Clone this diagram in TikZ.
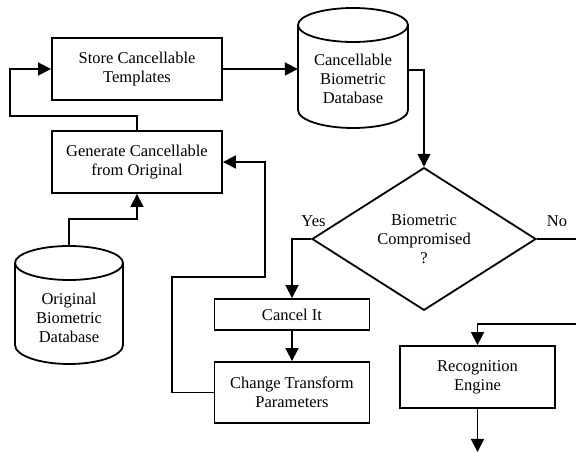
\documentclass[tikz,border=0pt]{standalone}
\usepackage{fontspec}
\setmainfont{Liberation Serif}
\usetikzlibrary{arrows.meta,shapes.geometric}
\begin{document}
\begin{tikzpicture}[x=1pt,y=1pt,
  every node/.style={font=\fontsize{16.5}{19}\selectfont, align=center},
  box/.style={draw, line width=1.9pt, inner sep=0pt},
  ln/.style={line width=1.8pt},
  arr/.style={ln, -{Triangle[length=13pt,width=13pt]}},
  cyl/.style={line width=1.8pt},
  lbl/.style={inner sep=0pt}]
\useasboundingbox (0,0) rectangle (576,452);
% boxes
\node[box, minimum width=170pt, minimum height=62pt] (store) at (137,383) {Store Cancellable\\Templates};
\node[box, minimum width=170pt, minimum height=62pt] (gen) at (137,290) {Generate Cancellable\\from Original};
\node[box, minimum width=155pt, minimum height=31pt] (can) at (292,137.5) {Cancel It};
\node[box, minimum width=155pt, minimum height=61pt] (chg) at (292,59.5) {Change Transform\\Parameters};
\node[box, minimum width=155pt, minimum height=62pt] (rec) at (477.5,75) {Recognition\\Engine};
\node[draw, diamond, line width=1.8pt, inner sep=0pt, minimum width=224pt, minimum height=124pt] (dia) at (424,213) {Biometric\\Compromised\\?};
% cylinders
\node[lbl, minimum width=110pt] (cdb) at (353,373) {Cancellable\\Biometric\\Database};
\draw[cyl] (353,427) ellipse[x radius=55pt, y radius=17pt];
\draw[cyl] (298,427) -- (298,342) arc[start angle=180, end angle=360, x radius=55pt, y radius=18pt] -- (408,427);
\node[lbl, minimum width=108pt] (odb) at (69,134) {Original\\Biometric\\Database};
\draw[cyl] (69,189) ellipse[x radius=54pt, y radius=17pt];
\draw[cyl] (15,189) -- (15,107) arc[start angle=180, end angle=360, x radius=54pt, y radius=19pt] -- (123,189);
\coordinate (odbtop) at (69,206);
% labels
\node[lbl] (yes) at (313.5,231) {Yes};
\node[lbl] (no) at (557,231) {No};
% helper coordinates
\coordinate (loopL) at (10,336);
\coordinate (odbR) at (137,233);
\coordinate (fbA) at (172,175);
\coordinate (fbB) at (265,175);
\coordinate (noEnd) at (576,213);
\coordinate (recIn) at (576,128);
\coordinate (recOut) at (477.5,0);
\coordinate (cdbOut) at (408,382);
% connectors
\draw[arr] (store.east) -- (store.east -| cdb.west);
\draw[arr] (cdbOut) -| (dia.north);
\draw[arr] (gen.north) |- (loopL) |- (store.west);
\draw[arr] (odbtop) |- (odbR) -- (gen.south);
\draw[arr] (chg.west) -| (fbA) -- (fbB) |- (gen.east);
\draw[arr] (dia.west) -| (can.north);
\draw[arr] (can.south) -- (chg.north);
\draw[ln] (dia.east) -- (noEnd);
\draw[arr] (recIn) -| (rec.north);
\draw[arr] (rec.south) -- (recOut);
\end{tikzpicture}
\end{document}
